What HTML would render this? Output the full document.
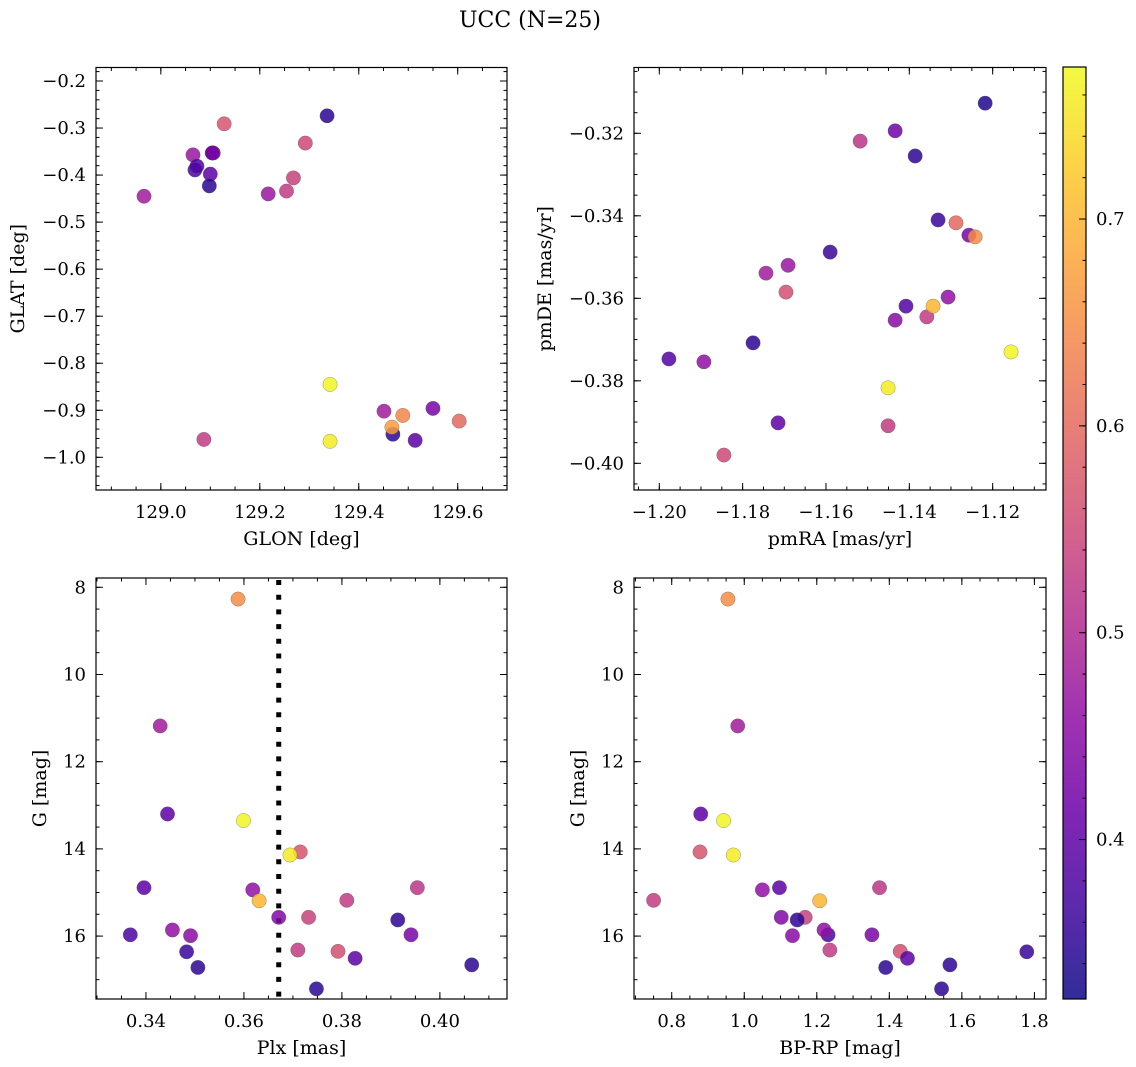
<!DOCTYPE html>
<html><head><meta charset="utf-8"><title>UCC (N=25)</title>
<style>
html,body{margin:0;padding:0;background:#fff;}
svg{display:block;font-family:"DejaVu Serif","Liberation Serif",serif;}
</style></head>
<body>
<svg id="fig" width="1136" height="1067" viewBox="0 0 1136 1067" xmlns="http://www.w3.org/2000/svg">
<rect x="0" y="0" width="1136" height="1067" fill="#fff"/>
<text x="530" y="27" font-size="22" text-anchor="middle" fill="#000">UCC (N=25)</text>
</svg>
<script>
// ---- data ----
const glon = [128.966,129.065,129.069,129.073,129.104,129.106,129.100,129.098,129.128,129.217,129.254,129.268,129.292,129.336,129.342,129.342,129.087,129.451,129.489,129.469,129.467,129.514,129.550,129.603,129.104];
const glat = [-0.445,-0.357,-0.389,-0.381,-0.353,-0.353,-0.398,-0.423,-0.291,-0.440,-0.434,-0.406,-0.332,-0.274,-0.845,-0.966,-0.962,-0.902,-0.911,-0.951,-0.936,-0.964,-0.896,-0.923,-0.353];
const colTL = [0.48,0.47,0.38,0.38,0.43,0.42,0.40,0.35,0.57,0.47,0.53,0.54,0.55,0.35,0.77,0.76,0.53,0.48,0.64,0.35,0.67,0.40,0.43,0.60,0.43];

const pmra = [-1.1218,-1.1434,-1.1518,-1.1386,-1.1331,-1.1288,-1.1257,-1.1242,-1.1590,-1.1744,-1.1691,-1.1696,-1.1307,-1.1408,-1.1358,-1.1343,-1.1434,-1.1775,-1.1977,-1.1893,-1.1156,-1.1451,-1.1715,-1.1451,-1.1845];
const pmde = [-0.3127,-0.3194,-0.3219,-0.3255,-0.3410,-0.3417,-0.3447,-0.3451,-0.3488,-0.3539,-0.3520,-0.3585,-0.3597,-0.3619,-0.3645,-0.3619,-0.3653,-0.3708,-0.3747,-0.3754,-0.3730,-0.3817,-0.3902,-0.3909,-0.3980];
const colTR = [0.34,0.42,0.52,0.35,0.36,0.60,0.43,0.65,0.36,0.48,0.47,0.56,0.46,0.39,0.53,0.70,0.45,0.35,0.39,0.46,0.77,0.76,0.40,0.53,0.55];

const gmag = [8.27,11.18,13.20,13.35,14.07,14.14,14.89,14.94,15.19,15.18,14.89,15.57,15.57,15.63,15.97,15.86,15.99,15.97,16.36,16.32,16.35,16.51,16.72,16.66,17.21];
const plx  = [0.3588,0.3429,0.3444,0.3599,0.3715,0.3694,0.3396,0.3618,0.3631,0.3810,0.3954,0.3671,0.3732,0.3914,0.3368,0.3454,0.3491,0.3941,0.3483,0.3710,0.3792,0.3827,0.3506,0.4065,0.3748];
const bprp = [0.955,0.982,0.880,0.943,0.878,0.970,1.097,1.050,1.208,0.750,1.373,1.102,1.168,1.146,1.231,1.220,1.133,1.352,1.779,1.236,1.430,1.450,1.390,1.567,1.544];
const colB = [0.65,0.48,0.40,0.77,0.57,0.76,0.40,0.46,0.70,0.53,0.52,0.44,0.54,0.35,0.38,0.46,0.45,0.43,0.36,0.53,0.56,0.40,0.35,0.35,0.35];
const plxLine = 0.3671;

const cbTicks = [0.4,0.5,0.6,0.7];
const cbRange = [0.3229,0.7735];

// ---- helpers ----
const NS = "http://www.w3.org/2000/svg";
const svg = document.getElementById('fig');
function mk(tag, attrs, parent){
  const e = document.createElementNS(NS, tag);
  for (const k in attrs) e.setAttribute(k, attrs[k]);
  (parent||svg).appendChild(e);
  return e;
}
const plasmaStops = ["#0d0887","#41049d","#6a00a8","#8f0da4","#b12a90","#cc4778","#e16462","#f2844b","#fca636","#fcce25","#f0f921"];
function hex2rgb(h){return [parseInt(h.substr(1,2),16),parseInt(h.substr(3,2),16),parseInt(h.substr(5,2),16)];}
function plasma(t){
  t=Math.max(0,Math.min(1,t));
  const f=t*10, i=Math.min(9,Math.floor(f)), r=f-i;
  const a=hex2rgb(plasmaStops[i]), b=hex2rgb(plasmaStops[i+1]);
  return 'rgb('+a.map((v,k)=>Math.round(v+(b[k]-v)*r)).join(',')+')';
}
function cnorm(v){return (v-cbRange[0])/(cbRange[1]-cbRange[0]);}
function fmt(v,d){const s=Math.abs(v).toFixed(d);return (v<-1e-9?'\u2212':'')+s;}

function panel(cfg){
  const {name,x0,x1,y0,y1,xr,yr,inv,xmaj,xmin,ymaj,ymin,xd,yd,xlab,ylab,ylabX} = cfg;
  const sx = v => x0 + (v-xr[0])/(xr[1]-xr[0])*(x1-x0);
  const sy = inv ? (v => y0 + (v-yr[0])/(yr[1]-yr[0])*(y1-y0)) : (v => y1 - (v-yr[0])/(yr[1]-yr[0])*(y1-y0));
  const g = mk('g',{});
  
  
  const tk = mk('g',{stroke:'#000','stroke-width':1},g);
  
  
  function ticksX(step,len,labels){
    const s=Math.ceil(xr[0]/step-1e-6), e=Math.floor(xr[1]/step+1e-6);
    for(let i=s;i<=e;i++){
      const v=i*step, x=sx(v);
      mk('line',{x1:x,x2:x,y1:y1,y2:y1-len},tk);
      mk('line',{x1:x,x2:x,y1:y0,y2:y0+len},tk);
      if(labels){
        const t=mk('text',{x:x,y:y1+28,'font-size':18,'text-anchor':'middle',fill:'#000',stroke:'none'},g);
        t.textContent=fmt(v,xd);
        
        
      }
    }
  }
  function ticksY(step,len,labels){
    const lo=Math.min(yr[0],yr[1]), hi=Math.max(yr[0],yr[1]);
    const s=Math.ceil(lo/step-1e-6), e=Math.floor(hi/step+1e-6);
    for(let i=s;i<=e;i++){
      const v=i*step, y=sy(v);
      mk('line',{x1:x0,x2:x0+len,y1:y,y2:y},tk);
      mk('line',{x1:x1,x2:x1-len,y1:y,y2:y},tk);
      if(labels){
        const t=mk('text',{x:x0-10,y:y+6,'font-size':18,'text-anchor':'end',fill:'#000',stroke:'none'},g);
        t.textContent=fmt(v,yd);
        
        
      }
    }
  }
  ticksX(xmin,3.5,false); ticksX(xmaj,7,true);
  ticksY(ymin,3.5,false); ticksY(ymaj,7,true);
  const xl=mk('text',{x:(x0+x1)/2,y:y1+55,'font-size':19,'text-anchor':'middle',fill:'#000'},g);
  xl.textContent=xlab;
  
  
  const yc=(y0+y1)/2;
  const yl=mk('text',{x:ylabX,y:yc,'font-size':19,'text-anchor':'middle',fill:'#000',transform:'rotate(-90 '+ylabX+' '+yc+')'},g);
  yl.textContent=ylab;
  
  
  return {g,sx,sy,x0,x1,y0,y1};
}
function frame(p,name){
  const r=mk('rect',{x:p.x0,y:p.y0,width:p.x1-p.x0,height:p.y1-p.y0,fill:'none',stroke:'#000','stroke-width':1.2},p.g);
  
  
}
function scatter(p,xs,ys,cs,name){
  for(let i=0;i<xs.length;i++){
    const c=mk('circle',{cx:p.sx(xs[i]),cy:p.sy(ys[i]),r:7.2,fill:plasma(cnorm(cs[i])),'fill-opacity':0.85,stroke:'#555','stroke-width':0.5,'stroke-opacity':0.6},p.g);
    
    
  }
}

// ---- panels ----
const tl = panel({name:'glon-glat-panel',x0:96,x1:507,y0:67.5,y1:490,xr:[128.869,129.6996],yr:[-1.0695,-0.1713],inv:false,
  xmaj:0.2,xmin:0.05,ymaj:0.1,ymin:0.02,xd:1,yd:1,xlab:'GLON [deg]',ylab:'GLAT [deg]',ylabX:24});
scatter(tl,glon,glat,colTL,'glon-glat');
frame(tl,'glon-glat-panel');

const tr = panel({name:'pm-panel',x0:634,x1:1046,y0:67.5,y1:490,xr:[-1.20607,-1.1072],yr:[-0.40647,-0.30405],inv:false,
  xmaj:0.02,xmin:0.005,ymaj:0.02,ymin:0.005,xd:2,yd:2,xlab:'pmRA [mas/yr]',ylab:'pmDE [mas/yr]',ylabX:551});
scatter(tr,pmra,pmde,colTR,'pm');
frame(tr,'pm-panel');

const bl = panel({name:'plx-g-panel',x0:96,x1:507,y0:578,y1:999,xr:[0.3298,0.4137],yr:[7.787,17.443],inv:true,
  xmaj:0.02,xmin:0.005,ymaj:2,ymin:0.5,xd:2,yd:0,xlab:'Plx [mas]',ylab:'G [mag]',ylabX:46});
const vl=mk('line',{x1:bl.sx(plxLine),x2:bl.sx(plxLine),y1:bl.y0+2,y2:bl.y1,stroke:'#000','stroke-width':5,'stroke-dasharray':'5 9.7'},bl.g);


scatter(bl,plx,gmag,colB,'plx-g');
frame(bl,'plx-g-panel');

const br = panel({name:'cmd-panel',x0:634,x1:1046,y0:578,y1:999,xr:[0.696,1.832],yr:[7.787,17.443],inv:true,
  xmaj:0.2,xmin:0.05,ymaj:2,ymin:0.5,xd:1,yd:0,xlab:'BP-RP [mag]',ylab:'G [mag]',ylabX:584});
scatter(br,bprp,gmag,colB,'cmd');
frame(br,'cmd-panel');

// ---- colorbar ----
const cb = mk('g',{});


const defs = mk('defs',{},cb);
const lg = mk('linearGradient',{id:'pl',x1:0,y1:1,x2:0,y2:0},defs);
for(let i=0;i<=20;i++){
  mk('stop',{offset:(i/20),'stop-color':plasma(i/20)},lg);
}
const cbx0=1063,cbx1=1086,cby0=67,cby1=999;
mk('rect',{x:cbx0,y:cby0,width:cbx1-cbx0,height:cby1-cby0,fill:'url(#pl)','fill-opacity':0.85},cb);
const cbs = v => cby1 - (v-cbRange[0])/(cbRange[1]-cbRange[0])*(cby1-cby0);
for(let v=0.34; v<0.775; v+=0.02){
  const y=cbs(v);
  mk('line',{x1:cbx1,x2:cbx1-3.5,y1:y,y2:y,stroke:'#000','stroke-width':1},cb);
}
cbTicks.forEach(v=>{
  const y=cbs(v);
  mk('line',{x1:cbx1,x2:cbx1-7,y1:y,y2:y,stroke:'#000','stroke-width':1},cb);
  const t=mk('text',{x:cbx1+10,y:y+6,'font-size':18,fill:'#000'},cb);
  t.textContent=v.toFixed(1);
  
  
});
mk('rect',{x:cbx0,y:cby0,width:cbx1-cbx0,height:cby1-cby0,fill:'none',stroke:'#000','stroke-width':1.2},cb);
</script>
</body></html>
